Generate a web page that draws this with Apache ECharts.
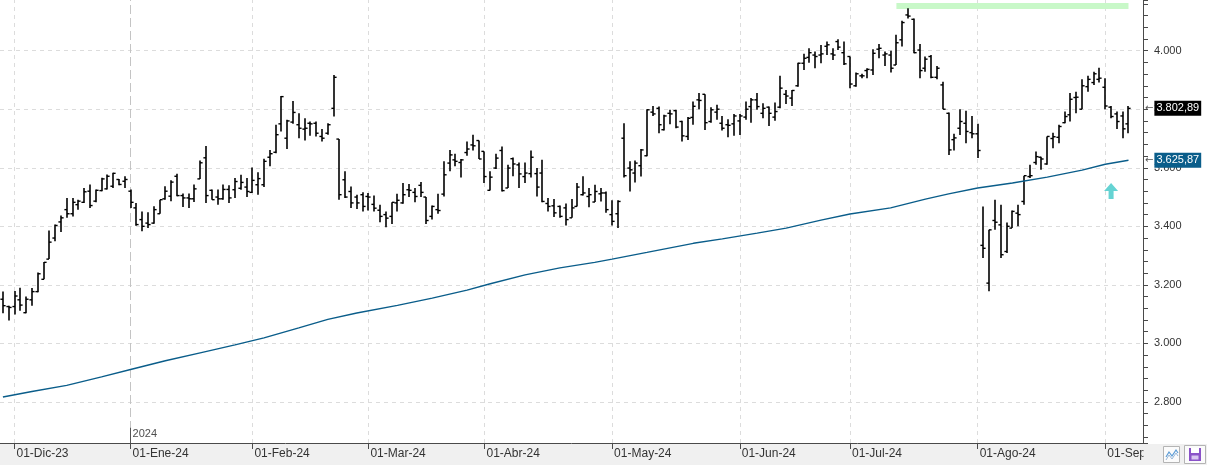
<!DOCTYPE html>
<html><head><meta charset="utf-8">
<script src="https://cdn.jsdelivr.net/npm/echarts@6/dist/echarts.min.js"></script>
<style>html,body{margin:0;padding:0;background:#fff;}#c{width:1207px;height:465px;}</style>
</head><body><div id="c"></div>
<script>
// ---- trading calendar (US sessions) ----
const startDate = '2023-11-29';
const endDate = '2024-09-09';
const holidays = ['2023-12-25','2024-01-01','2024-01-15','2024-02-19','2024-03-29','2024-05-27','2024-06-19','2024-07-04','2024-09-02'];
const monthNames = ['Ene','Feb','Mar','Abr','May','Jun','Jul','Ago','Sep','Oct','Nov','Dic'];

// ---- OHLC values ----
const opens = [3151,3126,3126,3149,3105,3149,3177,3219,3288,3360,3415,3457,3443,3474,3482,3520,3486,3522,3528,3537,3560,3554,
3520,3463,3423,3411,3411,3443,3494,3503,3571,3505,3497,3494,3562,3634,3523,3500,3494,3526,3525,3530,3534,
3516,3542,3542,3636,3653,3750,3701,3756,3747,3732,3752,3752,3707,3718,3803,3698,3559,3519,3500,3508,3502,
3475,3455,3440,3434,3480,3480,3525,3516,3540,3500,3434,3457,3510,3616,3627,3618,3652,3678,3693,3656,3523,
3599,3659,3531,3631,3610,3570,3580,3580,3582,3478,3470,3468,3463,3429,3468,3508,3502,3483,3511,3514,3440,
3443,3701,3599,3582,3607,3641,3790,3803,3730,3786,3795,3758,3707,3772,3832,3851,3758,3790,3752,3747,3750,
3760,3773,3809,3832,3786,3807,3773,3807,3851,3838,3880,3957,3977,3985,3985,4015,3989,4031,3993,3980,3880,
3914,3932,3934,4005,3985,3985,3951,4037,4122,4107,4002,3940,3980,3909,3883,3786,3696,3735,3752,3720,3716,
3335,3206,3420,3405,3314,3394,3445,3485,3570,3618,3636,3613,3700,3704,3754,3781,3840,3800,3877,3891,3902,
3875,3807,3784,3777,3750];
const highs = [3177,3129,3179,3190,3160,3189,3242,3278,3386,3406,3437,3497,3497,3491,3531,3543,3526,3566,3577,3583,3562,3571,
3526,3480,3451,3448,3469,3491,3537,3557,3580,3512,3512,3543,3625,3674,3526,3526,3543,3540,3565,3576,3565,
3601,3585,3631,3661,3747,3845,3764,3828,3786,3769,3758,3758,3732,3752,3917,3698,3588,3536,3508,3516,3514,
3505,3474,3451,3482,3511,3548,3545,3531,3551,3500,3471,3511,3622,3661,3648,3630,3690,3713,3693,3656,3588,
3648,3673,3610,3635,3618,3618,3659,3599,3627,3497,3493,3471,3478,3493,3548,3571,3531,3542,3531,3519,3489,
3489,3752,3622,3625,3664,3800,3811,3809,3781,3798,3798,3761,3773,3826,3855,3851,3807,3815,3777,3766,3784,
3784,3826,3838,3855,3820,3809,3823,3914,3866,3866,3959,3989,4008,3997,4019,4031,4008,4039,4031,3980,3925,
3921,3940,4005,4023,3997,4000,4054,4102,4145,4110,4023,3980,3985,3948,3894,3789,3716,3800,3795,3777,3750,
3468,3388,3491,3474,3413,3454,3474,3573,3610,3656,3638,3707,3720,3747,3792,3855,3860,3902,3914,3928,3942,
3906,3811,3792,3792,3811];
const lows = [3103,3078,3099,3112,3103,3129,3175,3219,3288,3349,3381,3429,3434,3457,3480,3463,3482,3520,3526,3531,3540,3531,
3463,3402,3383,3394,3409,3443,3491,3486,3503,3466,3463,3483,3562,3480,3491,3474,3491,3480,3497,3525,3500,
3514,3508,3534,3605,3650,3724,3664,3750,3701,3693,3709,3707,3690,3713,3775,3491,3497,3463,3459,3451,3454,
3451,3414,3397,3408,3451,3477,3500,3482,3500,3408,3423,3443,3502,3588,3605,3567,3641,3659,3630,3548,3522,
3596,3519,3531,3571,3531,3548,3567,3502,3482,3451,3432,3429,3403,3429,3468,3505,3465,3483,3485,3446,3403,
3394,3567,3519,3550,3570,3639,3777,3718,3727,3749,3735,3690,3695,3747,3800,3729,3754,3764,3727,3704,3709,
3712,3764,3754,3798,3769,3743,3761,3803,3818,3811,3877,3934,3959,3940,3957,3985,3968,4002,3951,3872,3877,
3906,3906,3917,3974,3948,3925,3951,4014,4110,3991,3906,3928,3906,3902,3800,3644,3659,3712,3684,3701,3633,
3292,3178,3388,3292,3309,3394,3400,3474,3565,3610,3593,3610,3667,3684,3752,3758,3786,3800,3860,3883,3891,
3800,3769,3732,3701,3718];
const closes = [3129,3123,3162,3131,3151,3177,3238,3277,3346,3403,3429,3443,3482,3486,3518,3471,3523,3562,3571,3581,3543,3560,
3482,3406,3400,3406,3457,3491,3520,3551,3505,3497,3494,3528,3617,3505,3491,3494,3526,3497,3553,3550,3519,
3557,3563,3622,3648,3713,3843,3760,3789,3735,3735,3750,3718,3701,3747,3909,3508,3500,3480,3480,3468,3500,
3462,3434,3428,3482,3489,3508,3523,3502,3516,3420,3468,3454,3576,3644,3622,3627,3664,3675,3630,3570,3568,
3633,3522,3599,3613,3579,3582,3636,3534,3485,3468,3446,3434,3423,3463,3534,3514,3508,3519,3514,3457,3417,
3485,3573,3593,3616,3661,3798,3784,3747,3777,3784,3739,3709,3769,3810,3830,3754,3798,3800,3735,3745,3777,
3777,3800,3832,3809,3803,3786,3792,3872,3845,3864,3957,3974,3993,3980,3989,4020,3985,4012,3955,3886,3921,
3914,3936,3991,4008,3989,3940,4027,4096,4118,3993,3932,3971,3909,3940,3800,3661,3702,3758,3724,3716,3659,
3325,3388,3414,3303,3400,3451,3440,3573,3573,3638,3630,3707,3706,3741,3775,3834,3841,3880,3902,3921,3906,
3811,3775,3758,3733,3802.89];

// ---- moving average readings [bar index, value] ----
const maPoints = [[0,2817],[5,2836],[11,2857],[17,2886],[22,2911],[28,2941],[34,2968],[40,2995],[45,3019],[51,3053],
[56,3082],[61,3104],[68,3130],[74,3155],[80,3182],[84,3204],[90,3234],[96,3258],[102,3277],[105,3288],[111,3311],
[119,3342],[124,3357],[130,3377],[135,3394],[141,3421],[146,3442],[153,3463],[159,3493],[163,3511],[168,3531],
[174,3548],[180,3568],[186,3592],[190,3612],[194,3625.87]];

const lastClose = 3802.89;
const lastMA = 3625.87;
const resistanceLevel = 4153;
const resistanceFrom = 154, resistanceTo = 194;
const signalArrow = [191.4, 3521];
const yMin = 2660, yMax = 4173;
const yearMark = {index: 22, text: '2024'};

// ---- build categories ----
function buildDates() {
  const out = [];
  const d = new Date(startDate + 'T00:00:00Z');
  const end = new Date(endDate + 'T00:00:00Z');
  while (d <= end) {
    const wd = d.getUTCDay();
    const s = d.toISOString().slice(0, 10);
    if (wd !== 0 && wd !== 6 && holidays.indexOf(s) < 0) out.push(s);
    d.setUTCDate(d.getUTCDate() + 1);
  }
  return out;
}
const dates = buildDates();
const categories = dates.concat([' ', '  ']);
const monthStarts = new Set();
for (let i = 1; i < dates.length; i++) {
  if (dates[i].slice(5, 7) !== dates[i - 1].slice(5, 7)) monthStarts.add(i);
}
const ohlc = opens.map((o, i) => [i, o, highs[i], lows[i], closes[i]]);

function fmtNum(v, dec) {
  const parts = v.toFixed(dec).split('.');
  const int = parts[0].replace(/\B(?=(\d{3})+(?!\d))/g, '.');
  return dec ? int + ',' + parts[1] : int;
}
function monthLabel(v) {
  const m = +v.slice(5, 7);
  return '01-' + monthNames[m - 1] + '-' + v.slice(2, 4);
}

const FONT = '"Liberation Sans", Arial, sans-serif';
const CLEAR = 'rgba(0,0,0,0)';

function renderOHLC(params, api) {
  const i = api.value(0);
  const po = api.coord([i, api.value(1)]);
  const ph = api.coord([i, api.value(2)]);
  const pl = api.coord([i, api.value(3)]);
  const pc = api.coord([i, api.value(4)]);
  const x = Math.round(ph[0]);
  const st = {stroke: '#000', lineWidth: 1.6};
  const tk = {stroke: '#000', lineWidth: 1.4};
  return {type: 'group', children: [
    {type: 'line', shape: {x1: x, y1: ph[1], x2: x, y2: pl[1]}, style: st},
    {type: 'line', shape: {x1: x - 2.6, y1: po[1], x2: x, y2: po[1]}, style: tk},
    {type: 'line', shape: {x1: x, y1: pc[1], x2: x + 2.6, y2: pc[1]}, style: tk}
  ]};
}

const monthLines = [];
monthStarts.forEach(i => {
  const isYear = i === yearMark.index;
  monthLines.push({xAxis: i, lineStyle: {color: isYear ? '#c4c4c4' : '#dcdcdc', type: isYear ? [9, 4] : [4, 4], width: 1}});
});

function priceTag(value, bg) {
  return {
    yAxis: value,
    lineStyle: {color: CLEAR, width: 1},
    label: {show: true, position: 'end', distance: 2, formatter: '{a|←}{b|' + fmtNum(value, 2) + '}',
      rich: {a: {color: '#555', fontSize: 10, fontFamily: '"DejaVu Sans", sans-serif', padding: [0, 1, 0, 0]},
             b: {backgroundColor: bg, color: '#fff', fontSize: 11, fontFamily: FONT, lineHeight: 13, padding: [2, 2, 2, 2]}}}
  };
}

const chart = echarts.init(document.getElementById('c'), null, {renderer: 'canvas'});
chart.setOption({
  animation: false,
  backgroundColor: '#fff',
  textStyle: {fontFamily: FONT},
  grid: {left: 0, right: 64, top: 0, bottom: 22, containLabel: false},
  xAxis: {
    type: 'category', data: categories, boundaryGap: true,
    axisLine: {lineStyle: {color: '#4a4a4a', width: 1}},
    axisTick: {show: true, alignWithLabel: true, length: 6, interval: (i) => monthStarts.has(i), lineStyle: {color: '#4a4a4a'}},
    axisLabel: {show: true, interval: (i) => monthStarts.has(i), formatter: monthLabel, align: 'left', padding: [0, 0, 0, 2],
      margin: 5, color: '#333', fontSize: 12, fontFamily: FONT},
    splitLine: {show: false}
  },
  yAxis: {
    type: 'value', position: 'right', min: yMin, max: yMax, splitNumber: 7, scale: true,
    axisLine: {show: true, lineStyle: {color: '#4a4a4a'}},
    axisTick: {show: true, length: 5, lineStyle: {color: '#4a4a4a'}},
    minorTick: {show: true, splitNumber: 5, length: 5, lineStyle: {color: '#4a4a4a'}},
    axisLabel: {margin: 11, color: '#333', fontSize: 11, fontFamily: FONT, showMinLabel: false, showMaxLabel: false,
      formatter: (v) => fmtNum(v, 0)},
    splitLine: {show: true, showMinLine: false, showMaxLine: false, lineStyle: {color: '#dcdcdc', type: [4, 4]}}
  },
  series: [
    {
      name: 'grid', type: 'line', data: [], z: 1, silent: true,
      markLine: {silent: true, symbol: 'none', label: {show: false}, animation: false,
        data: monthLines.concat([
          [{coord: [yearMark.index, yMin], lineStyle: {color: '#555', type: 'solid', width: 1}}, {coord: [yearMark.index, yMin + 52]}],
          [{coord: [resistanceFrom, resistanceLevel], lineStyle: {color: '#c8f8c8', type: 'solid', width: 6}}, {coord: [resistanceTo, resistanceLevel]}]
        ])}
    },
    {
      name: 'year', type: 'scatter', data: [[yearMark.index, yMin]], symbolSize: 2, clip: false,
      itemStyle: {color: CLEAR}, z: 3, silent: true,
      label: {show: true, formatter: yearMark.text, position: 'right', distance: 1, offset: [0, -9], color: '#222', fontSize: 11, fontFamily: FONT}
    },
    {
      name: 'OHLC', type: 'custom', renderItem: renderOHLC, data: ohlc, encode: {x: 0, y: [1, 2, 3, 4]}, z: 5,
      markLine: {silent: true, symbol: 'none', animation: false, data: [priceTag(lastClose, '#000')]}
    },
    {
      name: 'MA', type: 'line', data: maPoints, showSymbol: false, symbol: 'none', z: 6, connectNulls: true,
      lineStyle: {color: '#0a5d8a', width: 1.4},
      markLine: {silent: true, symbol: 'none', animation: false, data: [priceTag(lastMA, '#0a5d8a')]}
    },
    {
      name: 'signal', type: 'scatter', data: [signalArrow], z: 7, silent: true,
      symbol: 'path://M7,0 L14,8 L9.5,8 L9.5,16 L4.5,16 L4.5,8 L0,8 Z', symbolSize: [14, 16],
      itemStyle: {color: '#3ec8c8'}
    }
  ],
  graphic: [
    {type: 'rect', id: 'strip', z: -10, shape: {x: 0, y: 444, width: 1207, height: 21}, style: {fill: '#f0f0f0'}, silent: true},
    {type: 'rect', id: 'cover', z: 100, shape: {x: 1143.5, y: 444, width: 64, height: 21}, style: {fill: '#f0f0f0'}, silent: true},
    {type: 'rect', id: 'btn1', z: 101, shape: {x: 1163.5, y: 446.5, width: 16, height: 16}, style: {fill: '#fbfbfb', stroke: '#b4b4b4', lineWidth: 1}, silent: true},
    {type: 'polyline', id: 'btn1i', z: 102, shape: {points: [[1166, 457], [1169, 452], [1172, 456], [1176, 450], [1178, 453]]}, style: {stroke: '#5b9bd5', lineWidth: 1.2, fill: null}, silent: true},
    {type: 'polyline', id: 'btn1j', z: 102, shape: {points: [[1166, 460], [1169, 455], [1172, 459], [1176, 453], [1178, 456]]}, style: {stroke: '#9ab8d8', lineWidth: 1, fill: null}, silent: true},
    {type: 'rect', id: 'btn2', z: 101, shape: {x: 1184.5, y: 445.5, width: 21, height: 18}, style: {fill: '#fbfbfb', stroke: '#b4b4b4', lineWidth: 1}, silent: true},
    {type: 'rect', id: 'btn2a', z: 102, shape: {x: 1189, y: 448, width: 12, height: 13}, style: {fill: '#8a52c8'}, silent: true},
    {type: 'rect', id: 'btn2b', z: 103, shape: {x: 1191, y: 448, width: 8, height: 5}, style: {fill: '#fff'}, silent: true},
    {type: 'rect', id: 'btn2c', z: 103, shape: {x: 1191.5, y: 455.5, width: 7, height: 4}, style: {fill: '#d9c6f0'}, silent: true}
  ]
});
</script></body></html>
